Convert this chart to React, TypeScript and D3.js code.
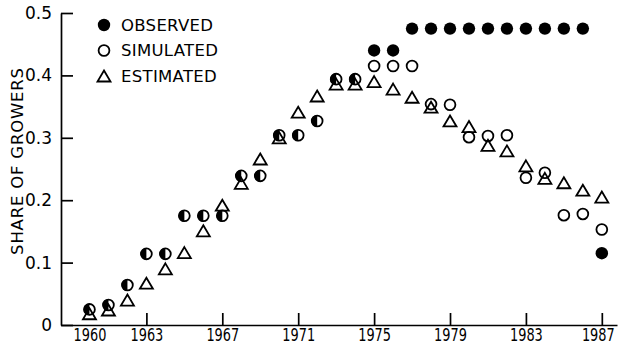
import { useEffect, useRef } from "react";
import { select, scaleLinear, axisBottom, axisLeft } from "d3";

const width = 618;
const height = 346;

const years = [
  1960, 1961, 1962, 1963, 1964, 1965, 1966, 1967, 1968, 1969, 1970, 1971, 1972, 1973,
  1974, 1975, 1976, 1977, 1978, 1979, 1980, 1981, 1982, 1983, 1984, 1985, 1986, 1987,
];
const observed = [
  0.025, 0.032, 0.064, 0.114, 0.114, 0.175, 0.175, 0.175, 0.239, 0.239, 0.304, 0.304, 0.327, 0.394,
  0.394, 0.44, 0.44, 0.475, 0.475, 0.475, 0.475, 0.475, 0.475, 0.475, 0.475, 0.475, 0.475, 0.115,
];
const simulated = [
  0.025, 0.032, 0.064, 0.114, 0.114, 0.175, 0.175, 0.175, 0.239, 0.239, 0.304, 0.304, 0.327, 0.394,
  0.394, 0.415, 0.415, 0.415, 0.354, 0.353, 0.301, 0.303, 0.304, 0.236, 0.244, 0.176, 0.178, 0.153,
];
const estimated = [
  0.018, 0.024, 0.04, 0.067, 0.09, 0.116, 0.151, 0.192, 0.227, 0.266, 0.3, 0.341, 0.367, 0.386,
  0.386, 0.39, 0.378, 0.365, 0.349, 0.327, 0.318, 0.288, 0.279, 0.255, 0.235, 0.228, 0.216, 0.205,
];
const xTicks = [1960, 1963, 1967, 1971, 1975, 1979, 1983, 1987];
const yTicks = [0, 0.1, 0.2, 0.3, 0.4, 0.5];
const legendLabels = ["OBSERVED", "SIMULATED", "ESTIMATED"];

const font = "'DejaVu Sans', sans-serif";

// triangle centred on its box
const tri = (w: number, h: number) => `M0,${-h / 2}L${w / 2},${h / 2}L${-w / 2},${h / 2}Z`;
const leftHalf = (r: number) => `M0,${-r}A${r},${r} 0 0 0 0,${r}Z`;

const App = () => {
  const svgRef = useRef<SVGSVGElement>(null);

  useEffect(() => {
    const xScale = scaleLinear().domain([1958.5, 1987.8]).range([61, 617]);
    const yScale = scaleLinear().domain([0, 0.5]).range([325, 13]);
    const svg = select(svgRef.current);
    svg.selectAll("*").remove();

    const xAxis = axisBottom(xScale)
      .tickValues(xTicks)
      .tickFormat((d) => String(d))
      .tickSizeInner(-12)
      .tickSizeOuter(0)
      .tickPadding(4);
    const gx = svg.append("g").attr("transform", `translate(0,${yScale(0)})`).call(xAxis);
    gx.select(".domain").attr("stroke-width", 1.7);
    gx.selectAll(".tick line")
      .attr("stroke-width", 1.7)
      .attr("display", (d) => (d === 1960 ? "none" : null));
    // narrow digits, as in the reference lettering
    gx.selectAll(".tick text")
      .attr("font-family", font)
      .attr("font-size", 17)
      .attr("transform", (d) => (d === 1987 ? "translate(-4,0) scale(0.76,1)" : "scale(0.76,1)"))
      .attr("fill", "#000");

    const yAxis = axisLeft(yScale)
      .tickValues(yTicks)
      .tickFormat((d) => (d === 0 ? "0" : Number(d).toFixed(1)))
      .tickSizeInner(-12)
      .tickSizeOuter(0)
      .tickPadding(9);
    const gy = svg.append("g").attr("transform", `translate(${xScale.range()[0]},0)`).call(yAxis);
    gy.select(".domain").attr("stroke-width", 1.7);
    gy.selectAll(".tick line").attr("stroke-width", 1.7);
    gy.selectAll(".tick text")
      .attr("font-family", font)
      .attr("font-size", 17)
      .attr("fill", "#000");

    svg
      .append("text")
      .attr("transform", "translate(23,161) rotate(-90)")
      .attr("text-anchor", "middle")
      .attr("font-family", font)
      .attr("font-size", 16.5)
      .attr("letter-spacing", 0.8)
      .text("SHARE OF GROWERS");

    // simulated: open circles
    svg
      .append("g")
      .selectAll("circle")
      .data(years)
      .join("circle")
      .attr("cx", (d) => xScale(d))
      .attr("cy", (d, i) => yScale(simulated[i]))
      .attr("r", 5.4)
      .attr("fill", "none")
      .attr("stroke", "#000")
      .attr("stroke-width", 1.8);

    // observed: filled, half filled where equal to simulated
    const obs = svg
      .append("g")
      .selectAll("g")
      .data(years)
      .join("g")
      .attr("transform", (d, i) => `translate(${xScale(d)},${yScale(observed[i])})`);
    obs
      .filter((d, i) => Math.abs(observed[i] - simulated[i]) >= 0.003)
      .append("circle")
      .attr("r", 6.2)
      .attr("fill", "#000");
    obs
      .filter((d, i) => Math.abs(observed[i] - simulated[i]) < 0.003)
      .append("path")
      .attr("d", leftHalf(5.9))
      .attr("fill", "#000");

    // estimated: triangles
    svg
      .append("g")
      .selectAll("path")
      .data(years)
      .join("path")
      .attr("transform", (d, i) => `translate(${xScale(d)},${yScale(estimated[i])})`)
      .attr("d", tri(13, 11))
      .attr("fill", "none")
      .attr("stroke", "#000")
      .attr("stroke-width", 1.8)
      .attr("stroke-linejoin", "miter");

    // legend
    const legend = svg
      .append("g")
      .selectAll("g")
      .data(legendLabels)
      .join("g")
      .attr("transform", (d, i) => `translate(104,${25 + i * 25.5})`);
    legend
      .filter((d, i) => i === 0)
      .append("circle")
      .attr("r", 6.2)
      .attr("fill", "#000");
    legend
      .filter((d, i) => i === 1)
      .append("circle")
      .attr("r", 5.4)
      .attr("fill", "none")
      .attr("stroke", "#000")
      .attr("stroke-width", 1.8);
    legend
      .filter((d, i) => i === 2)
      .append("path")
      .attr("d", tri(13, 11))
      .attr("fill", "none")
      .attr("stroke", "#000")
      .attr("stroke-width", 1.8);
    legend
      .append("text")
      .attr("x", 17)
      .attr("dy", "0.36em")
      .attr("font-family", font)
      .attr("font-size", 16.5)
      .attr("letter-spacing", 0.3)
      .text((d) => d);
  }, []);

  return (
    <svg
      ref={svgRef}
      width={width}
      height={height}
      style={{ position: "absolute", left: 0, top: 0, background: "#fff" }}
    />
  );
};

export default App;
